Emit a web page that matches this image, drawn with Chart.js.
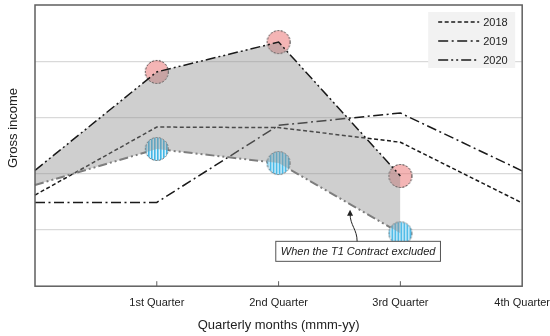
<!DOCTYPE html>
<html>
<head>
<meta charset="utf-8">
<script src="https://cdn.jsdelivr.net/npm/chart.js@4.4.1/dist/chart.umd.min.js"></script>
<style>
  html, body { margin: 0; padding: 0; background: #fff; }
  #wrap { width: 550px; height: 336px; }
</style>
</head>
<body>
<div id="wrap"><canvas id="incomeChart"></canvas></div>
<script>
// values (y axis runs 0..5, no printed ticks)
const quarters = ["", "1st Quarter", "2nd Quarter", "3rd Quarter", "4th Quarter"];
const income2018 = [1.62, 2.83, 2.82, 2.56, 1.48];
const income2019 = [1.49, 1.49, 2.86, 3.08, 2.05];
const income2020 = [2.06, 3.81, 4.34, 1.96, null];
const incomeNoT1 = [1.80, 2.44, 2.19, 0.94, null];
const yTicks = [0, 1, 2, 3, 4, 5];

const FONT = "'Liberation Sans', Arial, sans-serif";
const TEXT = "#222";

// annotation anchor in data units
const note = { x: 2.653, y: 0.62, tipX: 2.587, tipY: 1.36, text: "When the T1 Contract excluded" };

function makeMarker(kind) {
    const c = document.createElement("canvas");
    c.width = 26; c.height = 26;
    const g = c.getContext("2d");
    g.save();
    g.beginPath();
    g.arc(13, 13, 11.5, 0, Math.PI * 2);
    g.clip();
    if (kind === "red") {
        g.fillStyle = "rgba(236,128,128,0.58)";
        g.fillRect(0, 0, 26, 26);
    } else {
        g.fillStyle = "#fff";
        g.fillRect(0, 0, 26, 26);
        g.fillStyle = "#3db5e6";
        for (let x = 1; x < 26; x += 3) g.fillRect(x, 0, 1.8, 26);
    }
    g.restore();
    g.beginPath();
    g.arc(13, 13, 11.5, 0, Math.PI * 2);
    g.setLineDash([2, 1.5]);
    g.lineWidth = 1;
    g.strokeStyle = kind === "red" ? "#333" : "#666";
    g.stroke();
    return c;
}
const redMarker = makeMarker("red");
const blueMarker = makeMarker("blue");

const framePlugin = {
    id: "frame",
    afterDatasetsDraw(chart) {
        const { ctx, chartArea: a, scales } = chart;
        ctx.save();
        ctx.strokeStyle = "#5f5f5f";
        ctx.lineWidth = 1.5;
        ctx.strokeRect(a.left, a.top, a.right - a.left, a.bottom - a.top);
        // inward tick marks on the x axis
        ctx.lineWidth = 1;
        scales.x.ticks.forEach((t, i) => {
            if (i === 0 || i === quarters.length - 1) return;
            const px = scales.x.getPixelForTick(i);
            ctx.beginPath();
            ctx.moveTo(px, a.bottom);
            ctx.lineTo(px, a.bottom - 5);
            ctx.stroke();
        });
        ctx.restore();
    },
    afterDraw(chart) {
        const { ctx, chartArea: a, scales } = chart;
        ctx.save();

        // y axis title
        ctx.translate(13, 128);
        ctx.rotate(-Math.PI / 2);
        ctx.font = "13px " + FONT;
        ctx.fillStyle = TEXT;
        ctx.textAlign = "center";
        ctx.textBaseline = "middle";
        ctx.fillText("Gross income", 0, 0);
        ctx.setTransform(1, 0, 0, 1, 0, 0);

        // legend
        const items = chart.data.datasets.filter(d => d.inLegend);
        const bx = a.right - 94, by = a.top + 7, bw = 87, bh = 56;
        ctx.fillStyle = "#f2f2f2";
        ctx.fillRect(bx, by, bw, bh);
        ctx.font = "11px " + FONT;
        ctx.textAlign = "left";
        items.forEach((d, i) => {
            const ly = by + 10 + i * 19;
            ctx.beginPath();
            ctx.setLineDash(d.borderDash);
            ctx.strokeStyle = d.borderColor;
            ctx.lineWidth = 1.5;
            ctx.moveTo(bx + 10, ly);
            ctx.lineTo(bx + 51, ly);
            ctx.stroke();
            ctx.fillStyle = TEXT;
            ctx.fillText(d.label, bx + 55, ly + 0.5);
        });
        ctx.setLineDash([]);

        // annotation box + arrow
        const cx = scales.x.getPixelForValue(note.x);
        const cy = scales.y.getPixelForValue(note.y);
        const tx = scales.x.getPixelForValue(note.tipX);
        const ty = scales.y.getPixelForValue(note.tipY);
        ctx.font = "italic 11px " + FONT;
        const w = ctx.measureText(note.text).width + 10;
        const h = 20;
        ctx.fillStyle = "#fff";
        ctx.fillRect(cx - w / 2, cy - h / 2, w, h);
        ctx.strokeStyle = "#555";
        ctx.lineWidth = 1;
        ctx.strokeRect(cx - w / 2, cy - h / 2, w, h);
        ctx.fillStyle = TEXT;
        ctx.textAlign = "center";
        ctx.fillText(note.text, cx, cy + 0.5);

        const sx = cx - 1, sy = cy - h / 2;
        ctx.beginPath();
        ctx.strokeStyle = "#222";
        ctx.moveTo(sx, sy);
        ctx.bezierCurveTo(sx, sy - 12, tx, sy - 16, tx, ty + 4);
        ctx.stroke();
        ctx.beginPath();
        ctx.fillStyle = "#222";
        ctx.moveTo(tx, ty);
        ctx.lineTo(tx - 3, ty + 6);
        ctx.lineTo(tx + 3, ty + 6);
        ctx.closePath();
        ctx.fill();

        ctx.restore();
    }
};

const hideFirst = ctx => (ctx.dataIndex === 0 ? 0 : 12);

new Chart(document.getElementById("incomeChart"), {
    type: "line",
    data: {
        labels: quarters,
        datasets: [
            {
                label: "2018",
                inLegend: true,
                data: income2018,
                borderColor: "#1a1a1a",
                borderWidth: 1.5,
                borderDash: [4, 2.5],
                pointRadius: 0,
                tension: 0,
                order: 5,
            },
            {
                label: "2019",
                inLegend: true,
                data: income2019,
                borderColor: "#1a1a1a",
                borderWidth: 1.5,
                borderDash: [10, 3.5, 2, 3.5],
                pointRadius: 0,
                tension: 0,
                order: 5,
            },
            {
                label: "2020",
                inLegend: true,
                data: income2020,
                borderColor: "#1a1a1a",
                borderWidth: 1.5,
                borderDash: [10, 3, 2, 3, 2, 3],
                pointRadius: 0,
                backgroundColor: "rgba(140,140,140,0.42)",
                fill: 3,
                tension: 0,
                order: 0,
            },
            {
                label: "2020 without T1",
                data: incomeNoT1,
                borderColor: "#7a7a7a",
                borderWidth: 2,
                borderDash: [9, 3, 2, 3, 2, 3],
                pointRadius: 0,
                tension: 0,
                order: 4,
            },
            {
                label: "markers without T1",
                data: incomeNoT1,
                showLine: false,
                pointStyle: blueMarker,
                pointRadius: hideFirst,
                order: 3,
            },
            {
                label: "markers 2020",
                data: income2020,
                showLine: false,
                pointStyle: redMarker,
                pointRadius: hideFirst,
                order: 2,
            },
        ],
    },
    options: {
        responsive: true,
        maintainAspectRatio: false,
        animation: false,
        layout: { autoPadding: false, padding: { left: 35, top: 5, right: 0, bottom: 0 } },
        plugins: {
            legend: { display: false },
            tooltip: { enabled: false },
        },
        scales: {
            x: {
                // invisible tick marks only reserve the gap above the labels
                grid: { drawOnChartArea: false, drawTicks: true, tickLength: 10, color: "rgba(0,0,0,0)" },
                border: { display: false },
                ticks: {
                    color: TEXT,
                    font: { family: FONT, size: 11 },
                    padding: 0,
                    maxRotation: 0,
                    autoSkip: false,
                },
                title: {
                    display: true,
                    text: "Quarterly months (mmm-yy)",
                    color: TEXT,
                    font: { family: FONT, size: 13 },
                    padding: { top: 8, bottom: 3 },
                },
            },
            y: {
                min: yTicks[0],
                max: yTicks[yTicks.length - 1],
                afterBuildTicks: scale => {
                    scale.ticks = yTicks.map(v => ({ value: v }));
                },
                ticks: { display: false },
                grid: {
                    drawTicks: false,
                    color: ctx => (ctx.tick.value === 0 || ctx.tick.value === 5 ? "rgba(0,0,0,0)" : "#d9d9d9"),
                    lineWidth: 1.2,
                },
                border: { display: false },
            },
        },
    },
    plugins: [framePlugin],
});
</script>
</body>
</html>
